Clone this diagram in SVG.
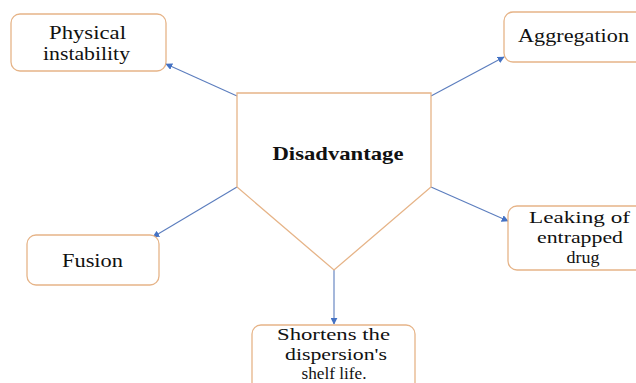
<svg xmlns="http://www.w3.org/2000/svg" width="636" height="383" viewBox="0 0 636 383" font-family="'Liberation Serif', 'DejaVu Serif', serif">
<defs>
<style>
.box{fill:#fff;stroke:#E6B488;stroke-width:1.3}
.t{font-family:'Liberation Serif','DejaVu Serif',serif;font-size:19px;fill:#111;text-anchor:middle}
.s{font-size:17px}
.b{font-weight:bold}
.c{stroke:#5B7DBE;stroke-width:1.1;fill:none;marker-end:url(#ah)}
</style>
<marker id="ah" viewBox="0 0 10 10" refX="9" refY="5" markerWidth="7" markerHeight="7" markerUnits="userSpaceOnUse" orient="auto">
<path d="M0,0 L10,5 L0,10 z" fill="#4472C4"/>
</marker>
</defs>
<rect width="636" height="383" fill="#fff"/>
<g id="connectors">
<line class="c" x1="237" y1="96" x2="166" y2="64"/>
<line class="c" x1="431" y1="96" x2="504" y2="57"/>
<line class="c" x1="237" y1="187" x2="153" y2="237"/>
<line class="c" x1="431" y1="187" x2="508" y2="221"/>
<line class="c" x1="334" y1="270" x2="334" y2="324"/>
</g>
<g id="center">
<polygon class="box" points="237,93 431,93 431,187 334,270 237,187"/>
<text class="t b" x="338" y="160" textLength="131" lengthAdjust="spacingAndGlyphs">Disadvantage</text>
</g>
<g id="physical">
<rect class="box" x="11" y="14" width="155" height="57" rx="9"/>
<text class="t" x="87.5" y="39" textLength="77" lengthAdjust="spacingAndGlyphs">Physical</text>
<text class="t" x="86.5" y="60" textLength="87" lengthAdjust="spacingAndGlyphs">instability</text>
</g>
<g id="aggregation">
<rect class="box" x="504" y="12" width="160" height="50" rx="9"/>
<text class="t" x="573.5" y="42" textLength="111" lengthAdjust="spacingAndGlyphs">Aggregation</text>
</g>
<g id="fusion">
<rect class="box" x="27" y="235" width="132" height="50" rx="9"/>
<text class="t" x="92.5" y="267" textLength="61" lengthAdjust="spacingAndGlyphs">Fusion</text>
</g>
<g id="leaking">
<rect class="box" x="508" y="206" width="160" height="64" rx="9"/>
<text class="t s" x="579.5" y="223" textLength="101" lengthAdjust="spacingAndGlyphs">Leaking of</text>
<text class="t s" x="580" y="243" textLength="86" lengthAdjust="spacingAndGlyphs">entrapped</text>
<text class="t s" x="583" y="263" textLength="33" lengthAdjust="spacingAndGlyphs">drug</text>
</g>
<g id="shortens">
<rect class="box" x="252" y="325" width="163" height="80" rx="9"/>
<text class="t s" x="333.5" y="340" textLength="113" lengthAdjust="spacingAndGlyphs">Shortens the</text>
<text class="t s" x="336" y="359.5" textLength="102" lengthAdjust="spacingAndGlyphs">dispersion's</text>
<text class="t s" x="334" y="379" textLength="65" lengthAdjust="spacingAndGlyphs">shelf life.</text>
</g>
</svg>
